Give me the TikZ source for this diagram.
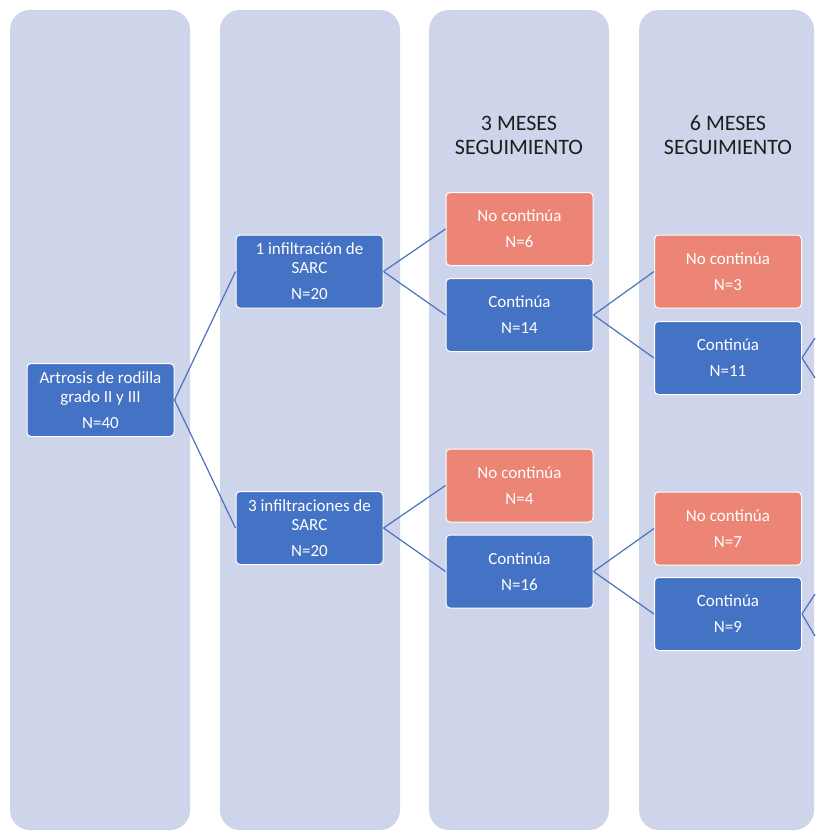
\documentclass[tikz,border=0pt]{standalone}
\usepackage{fontspec}
\setmainfont{Carlito}
\begin{document}
\begin{tikzpicture}[x=1pt, y=-1pt,
    lane/.style={fill=laneColour, rounded corners=20pt},
    stage/.style={rounded corners=4pt, draw=white, line width=1pt, minimum width=147pt, minimum height=73pt,
        text=white, align=center, inner sep=2pt, font=\fontsize{17}{19}\selectfont},
    keep/.style={stage, fill=keepColour},
    drop/.style={stage, fill=dropColour},
    header/.style={align=center, text=headColour, font=\fontsize{22}{24}\selectfont},
    branch/.style={draw=branchColour, line width=1.2pt}]

    \definecolor{laneColour}{HTML}{CED4EA}
    \definecolor{keepColour}{HTML}{4472C4}
    \definecolor{dropColour}{HTML}{EC8576}
    \definecolor{branchColour}{HTML}{4A72C0}
    \definecolor{headColour}{HTML}{1E1E1E}

    \useasboundingbox (0,0) rectangle (815,832);

    % Lanes
    \foreach \x in {10,220,429} 
        \fill[lane] (\x,10) rectangle (\x+180,830);
    \fill[lane] (639,10) rectangle (814,830);

    % Headers
    \node[header] (h3) at (519,135) {3 MESES\\SEGUIMIENTO};
    \node[header] (h6) at (728,135) {6 MESES\\SEGUIMIENTO};

    % Start
    \node[keep] (root) at (100.5,400) {Artrosis de rodilla\\grado II y III\\[7pt]N=40};

    % Treatment groups
    \node[keep] (inf1) at (309.5,271.5) {1 infiltración de\\SARC\\[7pt]N=20};
    \node[keep] (inf3) at (309.5,528) {3 infiltraciones de\\SARC\\[7pt]N=20};

    % 3 months
    \node[drop] (nc6) at (519.5,229) {No continúa\\[7pt]N=6};
    \node[keep] (c14) at (519.5,315) {Continúa\\[7pt]N=14};
    \node[drop] (nc4) at (519.5,485.5) {No continúa\\[7pt]N=4};
    \node[keep] (c16) at (519.5,571.5) {Continúa\\[7pt]N=16};

    % 6 months
    \node[drop] (nc3) at (728,271.5) {No continúa\\[7pt]N=3};
    \node[keep] (c11) at (728,358) {Continúa\\[7pt]N=11};
    \node[drop] (nc7) at (728,528.5) {No continúa\\[7pt]N=7};
    \node[keep] (c9) at (728,614) {Continúa\\[7pt]N=9};

    % Free ends at the right edge
    \coordinate (c11up) at (815,338);
    \coordinate (c11down) at (815,378);
    \coordinate (c9up) at (815,594);
    \coordinate (c9down) at (815,636);

    % Connectors
    \draw[branch] (root.east) -- (inf1.west);
    \draw[branch] (root.east) -- (inf3.west);
    \draw[branch] (inf1.east) -- (nc6.west);
    \draw[branch] (inf1.east) -- (c14.west);
    \draw[branch] (inf3.east) -- (nc4.west);
    \draw[branch] (inf3.east) -- (c16.west);
    \draw[branch] (c14.east) -- (nc3.west);
    \draw[branch] (c14.east) -- (c11.west);
    \draw[branch] (c16.east) -- (nc7.west);
    \draw[branch] (c16.east) -- (c9.west);
    \draw[branch] (c11.east) -- (c11up);
    \draw[branch] (c11.east) -- (c11down);
    \draw[branch] (c9.east) -- (c9up);
    \draw[branch] (c9.east) -- (c9down);

\end{tikzpicture}
\end{document}
